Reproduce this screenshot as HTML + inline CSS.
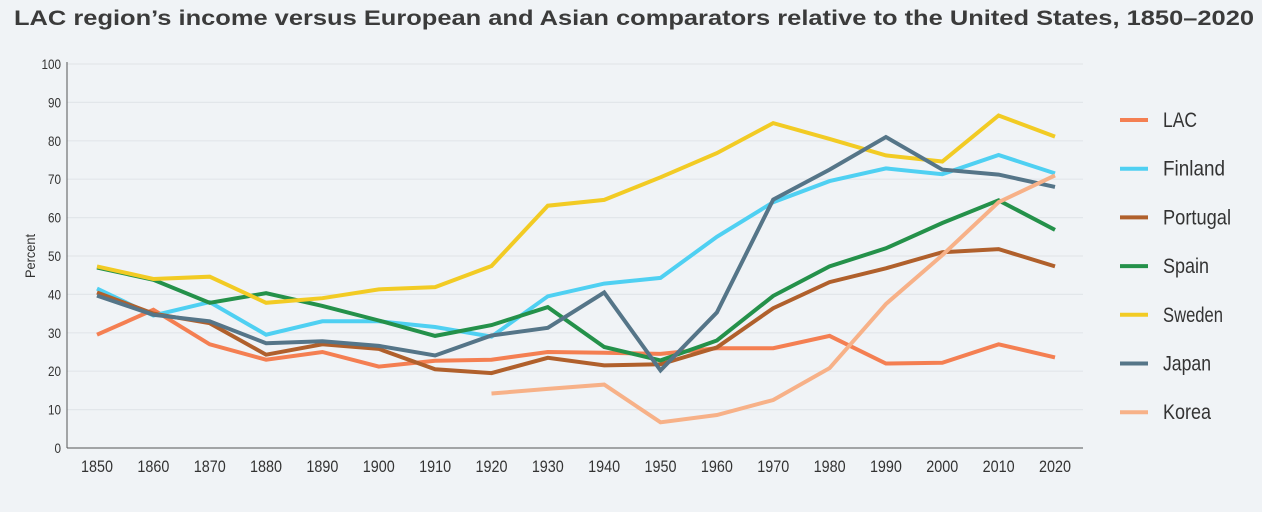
<!DOCTYPE html>
<html><head><meta charset="utf-8">
<style>
body{margin:0;background:#f0f3f6;}
svg{display:block;font-family:"Liberation Sans",sans-serif;}
</style></head>
<body>
<svg id="chart" width="1262" height="512" viewBox="0 0 1262 512" xmlns="http://www.w3.org/2000/svg">
<rect width="1262" height="512" fill="#f0f3f6"/>
<text x="14" y="25" textLength="1240" lengthAdjust="spacingAndGlyphs" font-weight="bold" font-size="21" fill="#3b3b3b">LAC region’s income versus European and Asian comparators relative to the United States, 1850–2020</text>
<g id="grid"></g><g id="axes"></g><g id="series"></g><g id="legend"></g>
</svg>
<script>
const years=[1850,1860,1870,1880,1890,1900,1910,1920,1930,1940,1950,1960,1970,1980,1990,2000,2010,2020];
const yTicks=[0,10,20,30,40,50,60,70,80,90,100];
const seriesNames=["LAC","Finland","Portugal","Spain","Sweden","Japan","Korea"];
const lac=[29.5,36,27,23,25,21.2,22.7,23,25,24.8,24.5,26,26,29.2,22,22.2,27,23.6];
const finland=[41.5,34.5,38,29.5,33,33,31.5,29,39.5,42.8,44.3,55,64,69.5,72.8,71.3,76.3,71.5];
const portugal=[40.5,35,32.5,24.3,27,25.8,20.5,19.5,23.5,21.5,21.8,26.2,36.4,43.2,46.8,51,51.8,47.3];
const spain=[47,43.8,37.8,40.3,37,33.2,29.2,32,36.7,26.3,22.8,28,39.6,47.3,52,58.6,64.5,56.8];
const sweden=[47.3,44,44.6,37.8,39,41.3,41.9,47.4,63.1,64.6,70.5,76.8,84.6,80.5,76.2,74.6,86.6,81.1];
const japan=[39.7,34.7,33,27.3,27.8,26.6,24.1,29.3,31.3,40.5,20.2,35.3,64.7,72.5,81,72.5,71.2,68];
const korea=[null,null,null,null,null,null,null,14.2,15.4,16.5,6.7,8.6,12.5,20.8,37.5,50.2,64,71];

const NS="http://www.w3.org/2000/svg";
const colors=["#f47f52","#4fd0f2","#b0602c","#24914a","#f2cb24","#557588","#f7b188"];
const allSeries=[lac,finland,portugal,spain,sweden,japan,korea];
const x=yr=>97+(yr-1850)/170*(1055-97);
const y=v=>448-v*3.84;
function mk(tag,attrs,parent){const e=document.createElementNS(NS,tag);for(const k in attrs)e.setAttribute(k,attrs[k]);parent.appendChild(e);return e;}
const grid=document.getElementById('grid'),axes=document.getElementById('axes'),ser=document.getElementById('series'),leg=document.getElementById('legend');
yTicks.forEach(t=>{
 if(t>0){const g=mk('line',{x1:67,x2:1083,y1:y(t),y2:y(t),stroke:'#e2e6ea','stroke-width':1.2},grid);
 
 }
 const s=String(t);
 const tl=mk('text',{x:61,y:y(t)+5,'text-anchor':'end','font-size':14,fill:'#333',textLength:s.length*6.5,lengthAdjust:'spacingAndGlyphs'},axes);tl.textContent=s;
 
 
});
const ax=mk('line',{x1:67,x2:67,y1:62,y2:448,stroke:'#555','stroke-width':1},axes);


const bx=mk('line',{x1:67,x2:1083,y1:448,y2:448,stroke:'#555','stroke-width':1},axes);


years.forEach(yr=>{const t=mk('text',{x:x(yr)-16,y:472,'font-size':17,fill:'#333',textLength:32,lengthAdjust:'spacingAndGlyphs'},axes);t.textContent=yr;
 
 });
const yt=mk('text',{x:0,y:0,transform:'translate(35,256) rotate(-90)','text-anchor':'middle','font-size':14,fill:'#333',textLength:44,lengthAdjust:'spacingAndGlyphs'},axes);yt.textContent='Percent';


const legW=[34,62,68,46,60,48,48];
allSeries.forEach((vals,i)=>{
 let d='';let pen=false;
 vals.forEach((v,j)=>{if(v==null){pen=false;return;}d+=(pen?'L':'M')+x(years[j]).toFixed(1)+' '+y(v).toFixed(1)+' ';pen=true;});
 const p=mk('path',{d:d,fill:'none',stroke:colors[i],'stroke-width':4,'stroke-linejoin':'miter'},ser);
 
 
 const ly=120+i*48.7;
 const ll=mk('line',{x1:1120,x2:1148,y1:ly,y2:ly,stroke:colors[i],'stroke-width':4},leg);
 
 
 const lt=mk('text',{x:1163,y:ly+7,'font-size':21,fill:'#333',textLength:legW[i],lengthAdjust:'spacingAndGlyphs'},leg);lt.textContent=seriesNames[i];
 
 
});
</script>
</body></html>
